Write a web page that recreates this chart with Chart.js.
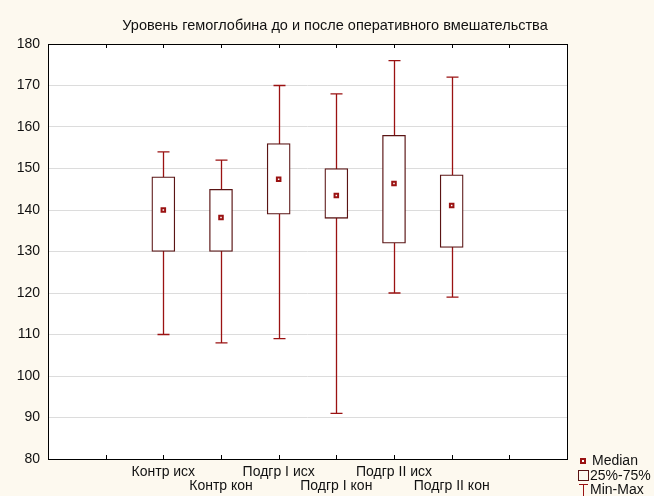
<!DOCTYPE html>
<html>
<head>
<meta charset="utf-8">
<script src="https://cdn.jsdelivr.net/npm/chart.js@4"></script>
<style>
  html, body { margin: 0; padding: 0; background: #fdf9ef; }
  #wrap { width: 654px; height: 496px; }
</style>
</head>
<body>
<div id="wrap"><canvas id="c" width="654" height="496"></canvas></div>
<script>
// Haemoglobin level before and after surgery, by group
const chartTitle = 'Уровень гемоглобина до и после оперативного вмешательства';
const categories = ['Контр исх', 'Контр кон', 'Подгр I исх', 'Подгр I кон', 'Подгр II исх', 'Подгр II кон'];
const positions = [2, 3, 4, 5, 6, 7];
const medians = [140, 138.2, 147.4, 143.5, 146.4, 141.1];
const q1 = [130, 130, 139, 138, 132, 131];
const q3 = [148, 145, 156, 150, 158, 148.5];
const mins = [110, 108, 109, 91, 120, 119];
const maxs = [154, 152, 170, 168, 176, 172];
const yTicks = [80, 90, 100, 110, 120, 130, 140, 150, 160, 170, 180];
const legendLabels = ['Median', '25%-75%', 'Min-Max'];

const FONT = '"Liberation Sans", Arial, sans-serif';
const WHISKER = '#9a1212';
const BOX = '#5a1414';

const framePlugin = {
  id: 'frame',
  beforeDraw(chart) {
    const { ctx, chartArea: a } = chart;
    ctx.save();
    ctx.fillStyle = '#fdf9ef';
    ctx.fillRect(0, 0, chart.width, chart.height);
    ctx.fillStyle = '#ffffff';
    ctx.fillRect(a.left, a.top, a.right - a.left, a.bottom - a.top);
    ctx.restore();
  },
  beforeDatasetsDraw(chart) {
    const { ctx } = chart;
    const xs = chart.scales.x, ys = chart.scales.y;
    ctx.save();
    ctx.strokeStyle = WHISKER;
    ctx.lineWidth = 1.3;
    positions.forEach((p, i) => {
      const x = Math.round(xs.getPixelForValue(p)) + 0.5;
      const yMin = ys.getPixelForValue(mins[i]);
      const yMax = ys.getPixelForValue(maxs[i]);
      ctx.beginPath();
      ctx.moveTo(x, yMin); ctx.lineTo(x, yMax);
      ctx.moveTo(x - 6, yMin); ctx.lineTo(x + 6, yMin);
      ctx.moveTo(x - 6, yMax); ctx.lineTo(x + 6, yMax);
      ctx.stroke();
    });
    ctx.restore();
  },
  afterDraw(chart) {
    const { ctx, chartArea: a } = chart;
    const xs = chart.scales.x;
    ctx.save();
    // plot frame
    ctx.strokeStyle = '#000';
    ctx.lineWidth = 1;
    ctx.strokeRect(Math.round(a.left) + 0.5, Math.round(a.top) + 0.5,
      Math.round(a.right - a.left), Math.round(a.bottom - a.top));
    // inner tick marks on top and bottom edges
    ctx.beginPath();
    for (let v = 1; v <= 8; v++) {
      const x = Math.round(xs.getPixelForValue(v)) + 0.5;
      ctx.moveTo(x, a.top); ctx.lineTo(x, a.top + 4);
      ctx.moveTo(x, a.bottom); ctx.lineTo(x, a.bottom - 4);
    }
    ctx.stroke();

    // title
    ctx.fillStyle = '#111';
    ctx.font = '14.5px ' + FONT;
    ctx.textAlign = 'center';
    ctx.textBaseline = 'middle';
    ctx.fillText(chartTitle, 335, 26);

    // legend
    const lx = 578;
    ctx.textAlign = 'left';
    ctx.font = '14px ' + FONT;
    // median marker
    ctx.fillStyle = '#fff';
    ctx.strokeStyle = WHISKER;
    ctx.lineWidth = 2;
    ctx.fillRect(lx + 3, 459, 4, 4);
    ctx.strokeRect(lx + 3, 459, 4, 4);
    ctx.fillStyle = '#111';
    ctx.fillText(legendLabels[0], lx + 14, 461);
    // box marker
    ctx.strokeStyle = BOX;
    ctx.lineWidth = 1;
    ctx.strokeRect(lx + 0.5, 470.5, 10, 10);
    ctx.fillText(legendLabels[1], lx + 12, 476);
    // whisker marker
    ctx.strokeStyle = WHISKER;
    ctx.beginPath();
    ctx.moveTo(lx + 5.5, 484); ctx.lineTo(lx + 5.5, 496);
    ctx.moveTo(lx + 1, 484.5); ctx.lineTo(lx + 10, 484.5);
    ctx.stroke();
    ctx.fillText(legendLabels[2], lx + 12, 490);
    ctx.restore();
  }
};

new Chart(document.getElementById('c'), {
  type: 'bar',
  data: {
    datasets: [
      {
        type: 'bar',
        data: positions.map((p, i) => ({ x: p, y: [q1[i], q3[i]] })),
        backgroundColor: '#ffffff',
        borderColor: BOX,
        borderWidth: 1.3,
        borderSkipped: false,
        barThickness: 23,
        grouped: false,
        order: 2
      },
      {
        type: 'scatter',
        data: positions.map((p, i) => ({ x: p, y: medians[i] })),
        pointStyle: 'rect',
        pointRadius: 2.5,
        backgroundColor: '#ffffff',
        borderColor: WHISKER,
        borderWidth: 2,
        order: 1
      }
    ]
  },
  options: {
    responsive: false,
    animation: false,
    events: [],
    layout: { padding: { top: 44, right: 87, left: 0, bottom: 0 } },
    plugins: { legend: { display: false }, title: { display: false }, tooltip: { enabled: false } },
    scales: {
      x: {
        type: 'linear',
        min: 0,
        max: 9,
        offset: false,
        afterFit(s) { s.height = 37; },
        afterBuildTicks(s) { s.ticks = positions.map(v => ({ value: v })); },
        grid: { display: false, drawTicks: false },
        border: { display: false },
        ticks: {
          autoSkip: false,
          maxRotation: 0,
          padding: 6,
          color: '#111',
          font: { family: FONT, size: 14, lineHeight: 1.0 },
          callback(v) {
            const i = positions.indexOf(v);
            if (i < 0) return '';
            return i % 2 === 0 ? categories[i] : ['', categories[i]];
          }
        }
      },
      y: {
        min: 80,
        max: 180,
        afterFit(s) { s.width = 48; },
        afterBuildTicks(s) { s.ticks = yTicks.map(v => ({ value: v })); },
        grid: { color: '#dcdcdc', lineWidth: 1, drawTicks: false },
        border: { display: false },
        ticks: {
          padding: 8,
          color: '#111',
          font: { family: FONT, size: 14 }
        }
      }
    }
  },
  plugins: [framePlugin]
});
</script>
</body>
</html>
